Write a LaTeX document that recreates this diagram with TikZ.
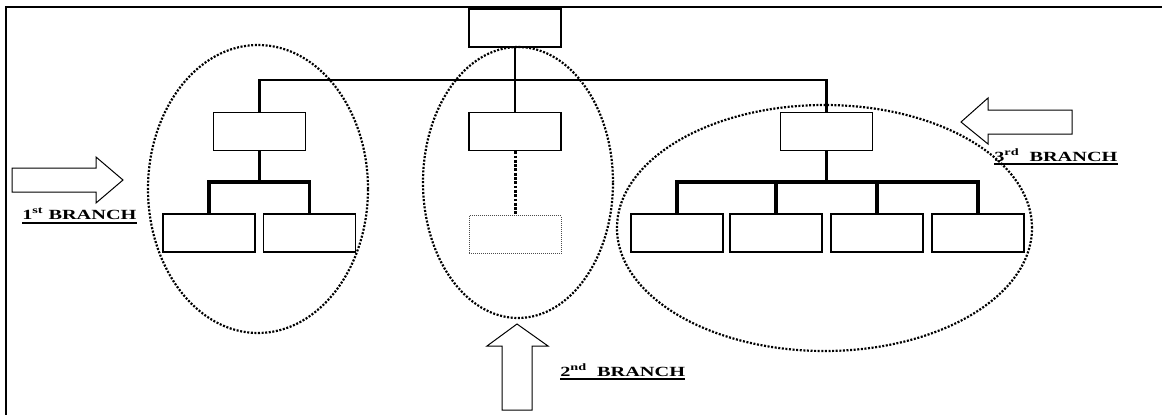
\documentclass[tikz,border=0pt]{standalone}
\usepackage{fontspec}
\setmainfont{Liberation Serif}
\begin{document}
\begin{tikzpicture}[x=1pt,y=-1pt,
	blk/.style={draw,line width=1.5pt,minimum width=92pt,minimum height=38pt,inner sep=0pt},
	ghostblk/.style={draw=black!70,line width=0.8pt,dash pattern=on 1pt off 1pt,minimum width=92pt,minimum height=38pt,inner sep=0pt},
	ring/.style={line width=2.2pt,dash pattern=on 2pt off 1.6pt},
	wire/.style={line width=2.4pt},
	thickwire/.style={line width=3.2pt},
	bigarrow/.style={draw,line width=1pt,line join=miter},
	branchlabel/.style={font=\bfseries\fontsize{14}{16}\selectfont,inner sep=0pt,anchor=base west,xscale=1.45}]
	
	\useasboundingbox (0,0) rectangle (1162,415);
	
	% frame
	\draw[line width=2.8pt] (6,415) -- (6,7) -- (1162,7);
	
	% dotted rings round the branches
	\draw[ring] (258,189) ellipse [x radius=110pt, y radius=144pt];
	\draw[ring] (518,182.5) ellipse [x radius=95pt, y radius=135.5pt];
	\draw[ring] (824.5,228) ellipse [x radius=207.5pt, y radius=123pt];
	
	% boxes
	\node[blk] (root) at (515,28) {};
	
	\node[blk] (b1) at (259.5,131.5) {};
	\node[blk] (b2) at (515,131.5) {};
	\node[blk] (b3) at (826.5,131.5) {};
	
	\node[blk] (l1) at (209,233) {};
	\node[blk] (l2) at (309.5,233) {};
	
	\node[ghostblk] (m1) at (515,234.5) {};
	
	\node[blk] (r1) at (677,233) {};
	\node[blk] (r2) at (776,233) {};
	\node[blk] (r3) at (877,233) {};
	\node[blk] (r4) at (978,233) {};
	
	\coordinate (bus) at (515,80);
	\coordinate (lbus) at (259.5,182);
	\coordinate (rbus) at (826.5,182);
	
	% tree lines
	\draw[wire] (root.south) -- (bus);
	\draw[wire] (b1.north) |- (bus) -| (b3.north);
	\draw[wire] (bus) -- (b2.north);
	
	\draw[wire] (b1.south) -- (lbus);
	\draw[thickwire] (l1.north) |- (lbus) -| (l2.north);
	
	\draw[line width=3pt,dash pattern=on 2.8pt off 1.5pt] (b2.south) -- (m1.north);
	
	\draw[wire] (b3.south) -- (rbus);
	\draw[thickwire] (r1.north) |- (rbus) -| (r4.north);
	\draw[thickwire] (r2.north) -- (r2.north |- rbus);
	\draw[thickwire] (r3.north) -- (r3.north |- rbus);
	
	% block arrows
	\draw[bigarrow] (12,168) -- (96,168) -- (96,157) -- (123,180) -- (96,203) -- (96,192) -- (12,192) -- cycle;
	\draw[bigarrow] (502,410) -- (502,346) -- (487,346) -- (517,324) -- (548,346) -- (532,346) -- (532,410) -- cycle;
	\draw[bigarrow] (1072,110) -- (988,110) -- (988,98) -- (961,122) -- (988,144) -- (988,134) -- (1072,134) -- cycle;
	
	% labels
	\node[branchlabel] (lbl1) at (22,219) {1\textsuperscript{st} BRANCH};
	\draw[line width=1.8pt] ([yshift=-4pt]lbl1.base west) -- ([yshift=-4pt]lbl1.base east);
	
	\node[branchlabel] (lbl2) at (560,376) {2\textsuperscript{nd}\ \ BRANCH};
	\draw[line width=1.8pt] ([yshift=-3pt]lbl2.base west) -- ([yshift=-3pt]lbl2.base east);
	
	\node[branchlabel] (lbl3) at (994,161) {3\textsuperscript{rd}\ \ BRANCH};
	\draw[line width=1.8pt] ([yshift=-3pt]lbl3.base west) -- ([yshift=-3pt]lbl3.base east);
	
\end{tikzpicture}
\end{document}
